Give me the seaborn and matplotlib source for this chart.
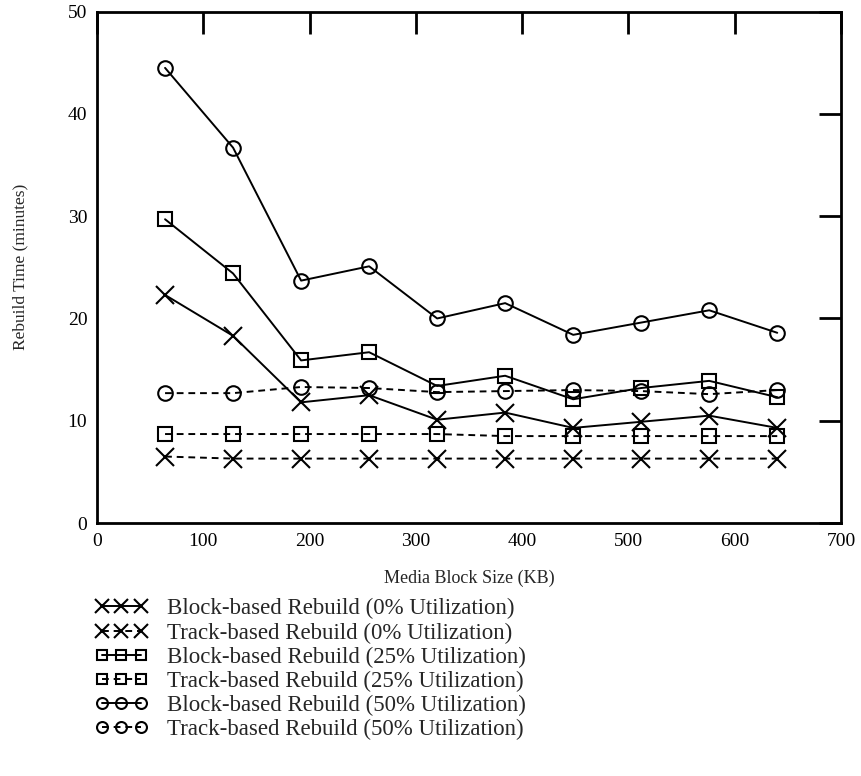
import matplotlib
matplotlib.use("Agg")
import matplotlib.pyplot as plt
import seaborn as sns
import pandas as pd

# Media block sizes (KB)
block_sizes = [64, 128, 192, 256, 320, 384, 448, 512, 576, 640]

# Rebuild times (minutes)
block_0 = [22.3, 18.3, 11.8, 12.5, 10.1, 10.8, 9.3, 9.9, 10.5, 9.3]
track_0 = [6.5, 6.3, 6.3, 6.3, 6.3, 6.3, 6.3, 6.3, 6.3, 6.3]
block_25 = [29.7, 24.4, 15.9, 16.7, 13.4, 14.4, 12.1, 13.2, 13.9, 12.3]
track_25 = [8.7, 8.7, 8.7, 8.7, 8.7, 8.5, 8.5, 8.5, 8.5, 8.5]
block_50 = [44.5, 36.7, 23.7, 25.1, 20.0, 21.5, 18.4, 19.6, 20.8, 18.6]
track_50 = [12.7, 12.7, 13.3, 13.2, 12.8, 12.9, 13.0, 12.9, 12.6, 13.0]

series_labels = [
    "Block-based Rebuild (0% Utilization)",
    "Track-based Rebuild (0% Utilization)",
    "Block-based Rebuild (25% Utilization)",
    "Track-based Rebuild (25% Utilization)",
    "Block-based Rebuild (50% Utilization)",
    "Track-based Rebuild (50% Utilization)",
]
series_values = [block_0, track_0, block_25, track_25, block_50, track_50]
series_markers = ["x", "x", "s", "s", "o", "o"]
series_styles = ["-", "--", "-", "--", "-", "--"]
marker_sizes = {"x": 12.5, "s": 9.5, "o": 10.5}

sns.set_theme(style="white")
plt.rcParams["font.family"] = ["Liberation Serif", "DejaVu Serif"]

fig = plt.figure(figsize=(8.61, 7.76), dpi=100)
ax = fig.add_axes([0.1127, 0.326, 0.8641, 0.659])

for label, vals, mk, ls in zip(series_labels, series_values, series_markers, series_styles):
    df = pd.DataFrame({"size": block_sizes, "time": vals})
    line_kws = dict(color="black", linewidth=1.4, marker=mk,
                    markersize=marker_sizes[mk],
                    markerfacecolor="none", markeredgecolor="black",
                    markeredgewidth=1.5)
    if ls == "--":
        line_kws["dashes"] = (3.5, 2.5)
    sns.lineplot(data=df, x="size", y="time", ax=ax, label=label, **line_kws)

ax.set_xlim(0, 700)
ax.set_ylim(0, 50)
ax.set_xticks(range(0, 701, 100))
ax.set_yticks(range(0, 51, 10))
ax.tick_params(direction="in", length=16, width=2, top=True, right=True,
               labelsize=14, colors="black", pad=7)
for side in ax.spines.values():
    side.set_linewidth(2)
    side.set_color("black")

ax.set_xlabel("Media Block Size (KB)", fontsize=13, labelpad=14)
ax.set_ylabel("Rebuild Time (minutes)", fontsize=12.5, labelpad=28)

handles, labels = ax.get_legend_handles_labels()
if ax.legend_:
    ax.legend_.remove()
fig.legend(
    handles, labels, loc="upper left", bbox_to_anchor=(0.110, 0.229),
    frameon=False, numpoints=3, markerscale=0.75, handlelength=2.3,
    handletextpad=0.85, labelspacing=0.13, fontsize=16.5,
    borderpad=0, borderaxespad=0,
)

fig.savefig("out.png", dpi=100)
